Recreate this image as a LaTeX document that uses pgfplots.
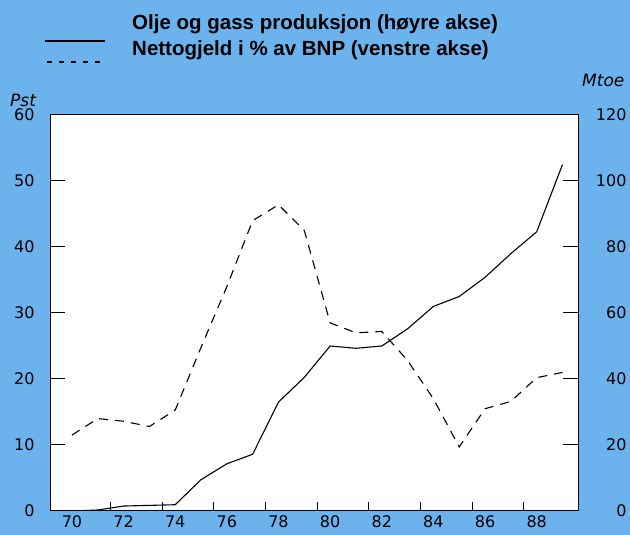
\documentclass[border=0pt]{standalone}
\usepackage{pgfplots}
\pgfplotsset{compat=1.18}
\usepackage{fontspec}
\setmainfont{Liberation Sans}
\newfontfamily\tickfont{DejaVu Sans}
\definecolor{bgblue}{RGB}{108,178,236}
\pgfplotstableread{
year debt
70 11.5
71 14.0
72 13.6
73 12.8
74 15.3
75 24.8
76 34.0
77 44.0
78 46.4
79 42.5
80 28.5
81 27.0
82 27.2
83 22.8
84 17.0
85 9.7
86 15.5
87 16.6
88 20.2
89 21.0
}\debttab
\pgfplotstableread{
year prod
70 0
71 0.3
72 1.5
73 1.7
74 1.9
75 9.5
76 14.3
77 17.2
78 33.0
79 40.5
80 50.0
81 49.3
82 50.0
83 55.2
84 62.0
85 65.0
86 70.8
87 78.0
88 84.6
89 105.0
}\prodtab
\pgfplotsset{
  base/.style={
    at={(50pt,24pt)}, anchor=south west, scale only axis,
    width=528pt, height=396pt,
    xmin=69.15, xmax=89.6,
    axis line style={line width=1pt},
    tick style={black, line width=1pt},
    /pgf/number format/assume math mode=true,
    ticklabel style={font=\tickfont\fontsize{16}{16}\selectfont},
  }
}
\begin{document}
\begin{tikzpicture}
\fill[bgblue] (0pt,0pt) rectangle (630pt,535pt);
% legend
\draw[line width=1.1pt] (45pt,494pt) -- (105pt,494pt);
\draw[line width=1.3pt, dash pattern=on 5pt off 7pt] (47pt,473pt) -- (106pt,473pt);
\node[anchor=west, inner sep=0pt, font=\fontsize{20.5}{22}\selectfont\bfseries] at (132pt,511pt) {Olje og gass produksjon (høyre akse)};
\node[anchor=west, inner sep=0pt, font=\fontsize{20.5}{22}\selectfont\bfseries] at (132pt,485pt) {Nettogjeld i \% av BNP (venstre akse)};
\node[anchor=west, inner sep=0pt, font=\tickfont\itshape\fontsize{17}{17}\selectfont] at (10pt,435pt) {Pst};
\node[anchor=west, inner sep=0pt, font=\tickfont\itshape\fontsize{17}{17}\selectfont] at (582pt,455pt) {Mtoe};
\begin{axis}[
  base,
  ymin=0, ymax=60,
  axis background/.style={fill=white},
  xtick={70,72,...,88},
  xtick style={draw=none},
  xtick pos=bottom, ytick pos=left,
  ytick={0,10,...,60},
  major tick length=15pt,
  xticklabel style={yshift=-1pt},
  yticklabel style={xshift=-12pt},
]
\addplot[black, line width=1.1pt, dash pattern=on 9pt off 7pt] table[x=year, y=debt] {\debttab};
% inward tick marks (left and right sides)
\addplot[black, line width=1pt, forget plot] coordinates {(69.15,10)(69.73,10)};
\addplot[black, line width=1pt, forget plot] coordinates {(69.15,20)(69.73,20)};
\addplot[black, line width=1pt, forget plot] coordinates {(69.15,30)(69.73,30)};
\addplot[black, line width=1pt, forget plot] coordinates {(69.15,40)(69.73,40)};
\addplot[black, line width=1pt, forget plot] coordinates {(69.15,50)(69.73,50)};
\addplot[black, line width=1pt, forget plot] coordinates {(89.6,10)(89.02,10)};
\addplot[black, line width=1pt, forget plot] coordinates {(89.6,20)(89.02,20)};
\addplot[black, line width=1pt, forget plot] coordinates {(89.6,30)(89.02,30)};
\addplot[black, line width=1pt, forget plot] coordinates {(89.6,40)(89.02,40)};
\addplot[black, line width=1pt, forget plot] coordinates {(89.6,50)(89.02,50)};
% bottom tick marks
\addplot[black, line width=1pt, forget plot] coordinates {(71.5,0)(71.5,1.35)};
\addplot[black, line width=1pt, forget plot] coordinates {(73.5,0)(73.5,1.35)};
\addplot[black, line width=1pt, forget plot] coordinates {(75.5,0)(75.5,1.35)};
\addplot[black, line width=1pt, forget plot] coordinates {(77.5,0)(77.5,1.35)};
\addplot[black, line width=1pt, forget plot] coordinates {(79.5,0)(79.5,1.35)};
\addplot[black, line width=1pt, forget plot] coordinates {(81.5,0)(81.5,1.35)};
\addplot[black, line width=1pt, forget plot] coordinates {(83.5,0)(83.5,1.35)};
\addplot[black, line width=1pt, forget plot] coordinates {(85.5,0)(85.5,1.35)};
\addplot[black, line width=1pt, forget plot] coordinates {(87.5,0)(87.5,1.35)};
\end{axis}
\begin{axis}[
  base,
  ymin=0, ymax=120,
  axis x line=none, axis y line*=right,
  ytick={0,20,...,120},
  tick align=inside,
  major tick length=15pt,
  yticklabel style={anchor=east, xshift=52pt},
]
\addplot[black, line width=1.1pt] table[x=year, y=prod] {\prodtab};
\end{axis}
\end{tikzpicture}
\end{document}
